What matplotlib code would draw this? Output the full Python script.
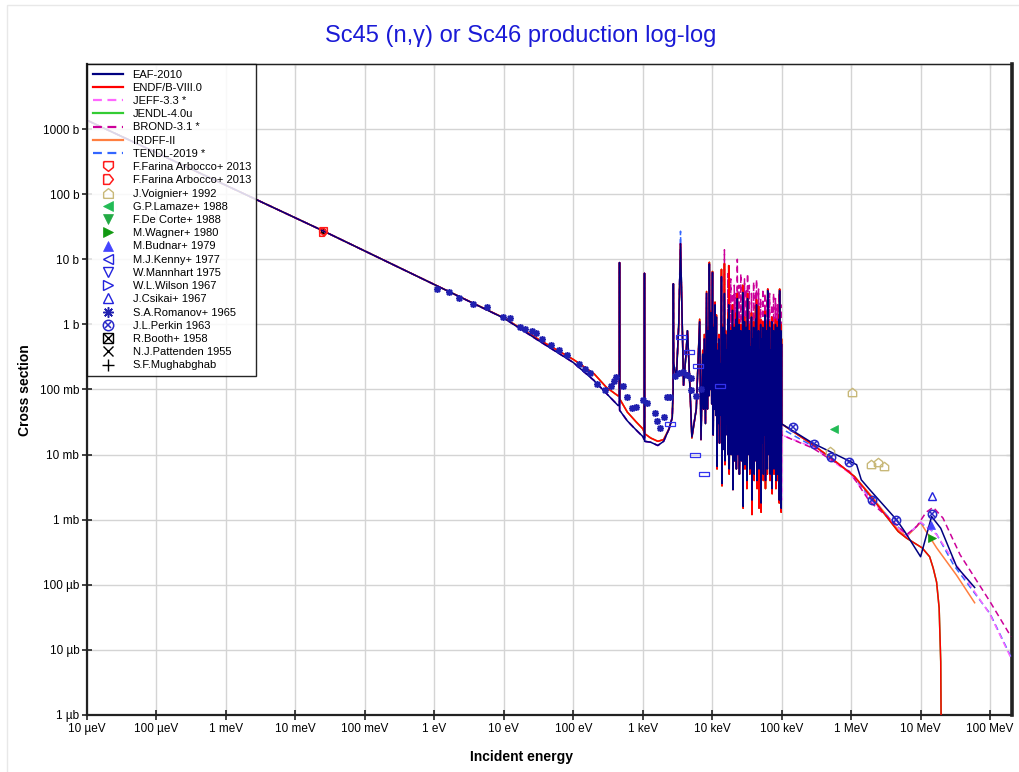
import matplotlib
matplotlib.use('Agg')
import matplotlib.pyplot as plt
from matplotlib.lines import Line2D
from matplotlib.patches import Rectangle
from matplotlib.ticker import NullLocator

plt.rcParams['font.family'] = ['Liberation Sans', 'DejaVu Sans']

# ---------------- evaluated data ----------------
# smooth (1/v) region, energies in eV, cross sections in barn
smooth_E_eV = [1e-5, 0.0253, 1.0, 10.0, 31.6, 100.0, 200.0, 300.0, 440.0]
eaf_smooth_b = [1368, 27.2, 4.1, 1.25, 0.565, 0.26, 0.137, 0.087, 0.057]
endf_smooth_b = [1368, 27.2, 4.1, 1.26, 0.59, 0.29, 0.174, 0.108, 0.080]

# isolated resonances, keV / barn
iso_E_keV = [0.462, 0.4635, 0.465, 0.6, 0.8, 1.0, 1.055, 1.06, 1.065, 1.3, 1.65, 2.0, 2.4,
             2.66, 2.74, 2.76, 2.79, 3.05, 3.3, 3.5, 3.7, 3.87, 4.2, 4.4, 4.6, 5.1, 5.9]
eaf_iso_b = [0.057, 8.9, 0.048, 0.033, 0.024, 0.019, 0.017, 6.1, 0.016, 0.0155, 0.0138, 0.016, 0.025,
             0.037, 0.1, 4.2, 0.25, 0.15, 1.0, 17.4, 1.0, 0.116, 0.35, 0.8, 0.3, 0.0187, 0.05]
endf_iso_b = [0.082, 8.9, 0.072, 0.045, 0.032, 0.025, 0.022, 6.1, 0.021, 0.018, 0.016, 0.017, 0.025,
              0.037, 0.1, 4.2, 0.25, 0.15, 1.0, 17.4, 1.0, 0.116, 0.35, 0.8, 0.3, 0.018, 0.05]
tendl_iso_b = [0.057, 8.9, 0.048, 0.033, 0.024, 0.019, 0.017, 6.1, 0.016, 0.0155, 0.0138, 0.016, 0.025,
               0.037, 0.1, 4.2, 0.25, 0.15, 1.0, 27.0, 1.0, 0.116, 0.35, 0.8, 0.3, 0.0187, 0.05]

# dense resolved resonance region, keV / barn
res_peak_keV = [6.6, 7.3, 7.7, 8.3, 8.8, 9.1, 9.6, 10.1, 10.6, 11.0,
                11.5, 12.0, 12.5, 13.0, 13.6, 14.1, 14.6, 15.0, 15.6, 16.2,
                16.8, 17.3, 17.9, 18.5, 19.0, 19.6, 20.2, 20.8, 21.4, 22.0,
                22.6, 23.0, 23.7, 24.3, 25.0, 25.8, 26.6, 27.5, 28.3, 29.2,
                30.1, 31.0, 32.3, 33.2, 34.2, 35.3, 36.8, 38.0, 39.5, 41.0,
                42.2, 43.5, 45.0, 46.5, 48.0, 49.8, 51.5, 53.5, 55.5, 57.5,
                59.5, 61.5, 63.0, 65.0, 67.0, 69.5, 72.0, 74.0, 76.5, 79.0,
                81.5, 84.0, 86.5, 89.0, 91.5, 93.5, 95.5, 97.5, 99.5]
res_valley_keV = [6.9, 7.5, 8.0, 8.55, 8.95, 9.35, 9.85, 10.35, 10.8, 11.25,
                  11.75, 12.25, 12.75, 13.3, 13.85, 14.35, 14.8, 15.3, 15.9, 16.5,
                  17.05, 17.6, 18.2, 18.75, 19.3, 19.9, 20.5, 21.1, 21.7, 22.3,
                  22.8, 23.35, 24.0, 24.65, 25.4, 26.2, 27.05, 27.9, 28.75, 29.65,
                  30.55, 31.6, 32.75, 33.7, 34.75, 36.0, 37.4, 38.75, 40.25, 41.6,
                  42.85, 44.25, 45.75, 47.25, 48.9, 50.6, 52.5, 54.5, 56.5, 58.5,
                  60.5, 62.2, 64.0, 66.0, 68.2, 70.7, 73.0, 75.2, 77.7, 80.2,
                  82.7, 85.2, 87.7, 90.2, 92.5, 94.5, 96.5, 98.5, 99.9]
eaf_peak_b = [1.1, 0.35, 0.6, 3.0, 0.8, 8.5, 1.5, 6.3, 0.9, 2.0,
              1.3, 0.4, 0.6, 0.25, 5.4, 0.9, 0.5, 3.0, 0.7, 0.4,
              1.2, 2.0, 0.6, 0.8, 0.4, 1.65, 0.5, 0.9, 0.35, 1.2,
              0.6, 2.5, 0.45, 1.0, 0.5, 0.8, 0.35, 3.1, 0.6, 1.1,
              0.4, 0.9, 2.5, 0.5, 0.8, 0.45, 1.3, 0.6, 0.9, 0.4,
              1.2, 2.0, 0.5, 0.8, 0.4, 1.0, 0.6, 0.9, 0.4, 1.4,
              0.5, 0.8, 3.3, 0.6, 0.9, 0.4, 1.1, 0.5, 0.8, 0.45,
              1.0, 0.6, 0.9, 0.4, 1.2, 3.3, 0.6, 0.8, 0.5]
eaf_valley_b = [0.017, 0.05, 0.03, 0.05, 0.08, 0.1, 0.06, 0.02, 0.05, 0.04,
                0.0066, 0.03, 0.015, 0.04, 0.0036, 0.03, 0.012, 0.008, 0.03, 0.02,
                0.01, 0.006, 0.025, 0.01, 0.03, 0.0029, 0.02, 0.008, 0.03, 0.006,
                0.02, 0.01, 0.03, 0.005, 0.02, 0.008, 0.025, 0.0016, 0.02, 0.007,
                0.03, 0.004, 0.01, 0.025, 0.006, 0.02, 0.002, 0.015, 0.005, 0.02,
                0.008, 0.004, 0.02, 0.006, 0.025, 0.0018, 0.015, 0.005, 0.02, 0.004,
                0.015, 0.006, 0.01, 0.02, 0.005, 0.02, 0.003, 0.015, 0.006, 0.02,
                0.004, 0.015, 0.005, 0.02, 0.002, 0.01, 0.004, 0.0015, 0.03]
endf_peak_b = [1.2, 0.4, 0.7, 3.2, 0.9, 9.0, 1.6, 6.5, 1.0, 2.2,
               1.4, 0.5, 0.7, 0.3, 7.0, 1.0, 0.6, 8.6, 0.8, 0.5,
               1.5, 8.0, 0.7, 0.9, 0.5, 2.0, 0.6, 1.0, 0.4, 1.5,
               0.7, 3.0, 0.5, 1.2, 0.6, 1.0, 0.4, 4.0, 0.7, 1.3,
               0.5, 1.1, 3.0, 0.6, 1.0, 0.5, 1.5, 0.7, 1.1, 0.5,
               1.9, 2.4, 0.6, 1.9, 0.5, 1.2, 0.7, 1.1, 0.5, 1.6,
               0.6, 1.0, 3.5, 0.7, 1.1, 0.5, 1.3, 0.6, 1.0, 0.5,
               1.2, 0.7, 1.1, 0.95, 1.4, 3.5, 0.7, 1.0, 0.6]
endf_valley_b = [0.017, 0.05, 0.03, 0.05, 0.08, 0.1, 0.06, 0.02, 0.05, 0.04,
                 0.006, 0.03, 0.015, 0.04, 0.0033, 0.03, 0.012, 0.007, 0.03, 0.02,
                 0.01, 0.005, 0.025, 0.01, 0.03, 0.0029, 0.02, 0.008, 0.03, 0.006,
                 0.02, 0.01, 0.03, 0.005, 0.02, 0.008, 0.025, 0.0015, 0.02, 0.006,
                 0.03, 0.003, 0.01, 0.025, 0.005, 0.02, 0.0012, 0.015, 0.004, 0.02,
                 0.008, 0.003, 0.02, 0.0015, 0.025, 0.0013, 0.015, 0.004, 0.02, 0.003,
                 0.015, 0.005, 0.01, 0.02, 0.004, 0.02, 0.0025, 0.015, 0.005, 0.02,
                 0.003, 0.015, 0.004, 0.02, 0.0018, 0.01, 0.003, 0.0013, 0.03]
brond_peak_b = [1.1, 0.35, 0.6, 3.0, 0.8, 8.5, 1.5, 6.3, 0.9, 2.0,
                1.3, 0.4, 0.6, 0.25, 6.0, 0.9, 0.5, 14.0, 0.7, 0.4,
                6.0, 8.0, 0.6, 5.0, 0.4, 3.0, 0.5, 4.0, 0.35, 3.0,
                0.6, 10.0, 0.45, 4.0, 0.5, 6.0, 0.35, 3.1, 0.6, 5.0,
                0.4, 3.5, 6.0, 0.5, 4.0, 0.45, 3.0, 0.6, 4.5, 0.4,
                3.0, 4.9, 0.5, 3.5, 0.4, 2.5, 0.6, 3.5, 0.4, 3.0,
                0.5, 2.5, 3.5, 0.6, 3.0, 0.4, 2.0, 0.5, 3.0, 0.45,
                2.5, 0.6, 2.0, 0.4, 3.0, 3.5, 0.6, 2.0, 0.5]

# fast region, MeV / mb
eaf_hi_MeV = [0.1, 0.28, 0.95, 1.2, 1.4, 1.85, 4.5, 5.9, 10.0, 14.4, 19.5, 33.0, 60.0]
eaf_hi_mb = [29.6, 15.0, 7.9, 7.0, 4.1, 2.9, 1.0, 0.66, 0.27, 1.12, 0.74, 0.19, 0.091]
endf_hi_MeV = [0.1, 0.28, 0.55, 1.12, 1.85, 4.75, 6.3, 10.5, 13.5, 15.2, 17.0, 18.5, 19.5, 20.0, 20.2]
endf_hi_mb = [29.6, 14.2, 8.4, 4.6, 2.4, 0.66, 0.52, 0.37, 0.27, 0.18, 0.11, 0.044, 0.0066, 1e-4, 1e-6]
jeff_hi_MeV = [0.1, 0.1005, 0.28, 0.95, 1.85, 4.5, 6.3, 10.0, 17.0, 33.0, 100.0, 200.0]
jeff_hi_mb = [2.0, 20.0, 13.0, 5.2, 2.1, 0.8, 0.56, 0.92, 0.59, 0.2, 0.035, 0.0075]
brond_hi_MeV = [0.1, 0.28, 0.95, 1.85, 4.5, 6.3, 8.8, 12.0, 15.2, 21.0, 37.0, 100.0, 200.0]
brond_hi_mb = [20.0, 12.6, 5.5, 1.9, 0.84, 0.59, 0.79, 1.3, 1.55, 1.06, 0.29, 0.055, 0.016]
irdff_hi_MeV = [0.1, 0.28, 0.55, 1.12, 1.85, 4.75, 6.3, 10.0, 17.0, 33.0, 60.0]
irdff_hi_mb = [29.6, 14.2, 8.4, 4.6, 2.5, 0.7, 0.55, 0.9, 0.37, 0.14, 0.053]
tendl_hi_MeV = [0.1, 0.28, 0.95, 1.85, 4.5, 6.3, 10.0, 17.0, 30.0, 100.0, 200.0]
tendl_hi_mb = [25.0, 13.5, 5.4, 2.2, 0.82, 0.57, 0.9, 0.6, 0.2, 0.036, 0.0078]

# ---------------- experimental data ----------------
farina1_E_eV = [0.0253]; farina1_b = [27.0]
farina2_E_eV = [0.0253]; farina2_b = [26.6]
voignier_E_MeV = [0.489, 1.02, 1.96, 2.44, 2.95]; voignier_mb = [11.2, 90.0, 7.2, 7.7, 6.8]
lamaze_E_MeV = [0.558]; lamaze_mb = [24.8]
decorte_E_eV = [0.0253]; decorte_b = [26.5]
wagner_E_MeV = [14.7]; wagner_mb = [0.53]
budnar_E_MeV = [14.2]; budnar_mb = [0.82]
kenny_E_keV = [24.5]; kenny_b = [0.09]
mannhart_E_keV = [30.0]; mannhart_b = [0.07]
wilson_E_keV = [26.0]; wilson_b = [0.1]
csikai_E_MeV = [14.7]; csikai_mb = [2.34]
romanov_E_eV = [1.09, 1.6, 2.3, 3.6, 5.7, 9.6, 12.2, 17, 20, 25.5, 29.5, 35.6, 48, 63, 80,
                120, 150, 177, 221, 291, 352, 384, 415, 523, 597, 705, 813, 1000, 1135, 1480,
                1600, 1800, 2000, 2250, 2500, 2870, 3300, 3800, 4400, 5000, 5000, 5900, 6800]
romanov_b = [3.5, 3.1, 2.55, 2.06, 1.83, 1.28, 1.24, 0.92, 0.85, 0.78, 0.73, 0.6, 0.49, 0.40, 0.34,
             0.25, 0.21, 0.18, 0.12, 0.099, 0.114, 0.137, 0.158, 0.114, 0.078, 0.052, 0.054, 0.068, 0.062, 0.043,
             0.033, 0.026, 0.038, 0.076, 0.078, 0.164, 0.18, 0.186, 0.167, 0.15, 0.099, 0.08, 0.1]
perkin_E_MeV = [0.144, 0.297, 0.517, 0.931, 2.0, 4.5, 14.4]
perkin_mb = [26.3, 14.3, 9.1, 7.7, 2.03, 1.0, 1.24]
booth_E_eV = [0.0253]; booth_b = [27.0]
pattenden_E_eV = [0.0253]; pattenden_b = [27.0]
mughabghab_E_eV = [0.0253]; mughabghab_b = [27.2]
bins_E_keV = [3.5, 4.6, 6.3, 12.9, 2.43, 5.6, 7.6]
bins_b = [0.63, 0.38, 0.23, 0.115, 0.029, 0.010, 0.0051]

x_ticks_eV = [1e-5, 1e-4, 1e-3, 1e-2, 1e-1, 1, 10, 100, 1e3, 1e4, 1e5, 1e6, 1e7, 1e8]
x_tick_labels = ['10 µeV', '100 µeV', '1 meV', '10 meV', '100 meV', '1 eV', '10 eV', '100 eV',
                 '1 keV', '10 keV', '100 keV', '1 MeV', '10 MeV', '100 MeV']
y_ticks_b = [1e-6, 1e-5, 1e-4, 1e-3, 1e-2, 1e-1, 1, 10, 100, 1000]
y_tick_labels = ['1 µb', '10 µb', '100 µb', '1 mb', '10 mb', '100 mb', '1 b', '10 b', '100 b', '1000 b']


def curve(smooth_b, iso_b, peak_b, valley_b, hi_MeV, hi_mb):
    E = list(smooth_E_eV)
    s = list(smooth_b)
    E += [e * 1e3 for e in iso_E_keV]
    s += list(iso_b)
    for ep, p, ev, v in zip(res_peak_keV, peak_b, res_valley_keV, valley_b):
        E += [ep * 1e3, ev * 1e3]
        s += [p, v]
    E += [e * 1e6 for e in hi_MeV]
    s += [m * 1e-3 for m in hi_mb]
    return E, s


W, H = 1020, 772
fig = plt.figure(figsize=(W / 100, H / 100), dpi=100)
fig.patches.append(Rectangle((7 / W, -0.01), 1.02, (772 - 5) / H + 0.01, transform=fig.transFigure,
                             fill=False, edgecolor='#e8e8e8', lw=1))
ax = fig.add_axes([87 / W, (772 - 715) / H, (1012 - 87) / W, (715 - 64) / H])
ax.set_xscale('log')
ax.set_yscale('log')

libs = [
    ('EAF-2010', '#000080', '-', curve(eaf_smooth_b, eaf_iso_b, eaf_peak_b, eaf_valley_b, eaf_hi_MeV, eaf_hi_mb), 10),
    ('ENDF/B-VIII.0', '#ff0000', '-', curve(endf_smooth_b, endf_iso_b, endf_peak_b, endf_valley_b, endf_hi_MeV, endf_hi_mb), 9),
    ('JEFF-3.3 *', '#ff66ff', '--', curve(eaf_smooth_b, eaf_iso_b, eaf_peak_b, eaf_valley_b, jeff_hi_MeV, jeff_hi_mb), 6),
    ('JENDL-4.0u', '#33cc33', '-', curve(endf_smooth_b, endf_iso_b, endf_peak_b, endf_valley_b, endf_hi_MeV, endf_hi_mb), 2),
    ('BROND-3.1 *', '#cc0099', '--', curve(eaf_smooth_b, eaf_iso_b, brond_peak_b, eaf_valley_b, brond_hi_MeV, brond_hi_mb), 7),
    ('IRDFF-II', '#ff7f40', '-', curve(endf_smooth_b, endf_iso_b, endf_peak_b, endf_valley_b, irdff_hi_MeV, irdff_hi_mb), 4),
    ('TENDL-2019 *', '#3366ff', '--', curve(eaf_smooth_b, tendl_iso_b, eaf_peak_b, eaf_valley_b, tendl_hi_MeV, tendl_hi_mb), 5),
]

handles = []
for name, col, ls, (E, s), z in libs:
    kw = dict(color=col, lw=1.1, zorder=z)
    if ls == '--':
        kw['dashes'] = (4, 2.5)
    ax.plot(E, s, **kw)
    handles.append(Line2D([], [], lw=1.6, label=name, **{k: v for k, v in kw.items() if k not in ('lw', 'zorder')}))

shield_down = [(-1, 1), (1, 1), (1, -0.2), (0, -1), (-1, -0.2), (-1, 1)]
shield_right = [(-1, 1), (0.2, 1), (1, 0), (0.2, -1), (-1, -1), (-1, 1)]
house_up = [(-1, -1), (1, -1), (1, 0.2), (0, 1), (-1, 0.2), (-1, -1)]
wide_box = [(-2, -0.75), (2, -0.75), (2, 0.75), (-2, 0.75), (-2, -0.75)]

blue_o = '#2222dd'
exp_specs = [
    # label, x, y, marker, color, filled, size, mew, zorder
    ('F.Farina Arbocco+ 2013', farina1_E_eV, farina1_b, shield_down, '#ff1a1a', False, 5.5, 1.1, 13),
    ('F.Farina Arbocco+ 2013', farina2_E_eV, farina2_b, shield_right, '#ff1a1a', False, 5.5, 1.1, 13),
    ('J.Voignier+ 1992', [e * 1e6 for e in voignier_E_MeV], [v * 1e-3 for v in voignier_mb], house_up, '#c8b878', False, 6, 1.0, 12),
    ('G.P.Lamaze+ 1988', [e * 1e6 for e in lamaze_E_MeV], [v * 1e-3 for v in lamaze_mb], '<', '#22bb55', True, 6, 0.5, 12),
    ('F.De Corte+ 1988', decorte_E_eV, decorte_b, 'v', '#22aa44', True, 3, 0.5, 3),
    ('M.Wagner+ 1980', [e * 1e6 for e in wagner_E_MeV], [v * 1e-3 for v in wagner_mb], '>', '#119911', True, 6, 0.5, 12),
    ('M.Budnar+ 1979', [e * 1e6 for e in budnar_E_MeV], [v * 1e-3 for v in budnar_mb], '^', '#4444ff', True, 6, 0.5, 12),
    ('M.J.Kenny+ 1977', [e * 1e3 for e in kenny_E_keV], kenny_b, '<', blue_o, False, 5, 1.0, 3),
    ('W.Mannhart 1975', [e * 1e3 for e in mannhart_E_keV], mannhart_b, 'v', blue_o, False, 5, 1.0, 3),
    ('W.L.Wilson 1967', [e * 1e3 for e in wilson_E_keV], wilson_b, '>', blue_o, False, 5, 1.0, 3),
    ('J.Csikai+ 1967', [e * 1e6 for e in csikai_E_MeV], [v * 1e-3 for v in csikai_mb], '^', blue_o, False, 6, 1.0, 12),
]

for lab, xs, ys, mk, col, filled, ms, mew, z in exp_specs:
    fc = col if filled else 'none'
    ax.plot(xs, ys, ls='none', marker=mk, ms=ms, mec=col, mfc=fc, mew=mew, zorder=z)
    handles.append(Line2D([], [], ls='none', marker=mk, ms=7, mec=col, mfc=fc, mew=mew, label=lab))

# Romanov asterisks
rom_col = '#2020b0'
ax.plot(romanov_E_eV, romanov_b, ls='none', marker=(8, 2, 0), ms=5, mec=rom_col, mew=1.1, zorder=12)
handles.append(Line2D([], [], ls='none', marker=(8, 2, 0), ms=7.5, mec=rom_col, mew=1.1, label='S.A.Romanov+ 1965'))

# Perkin circled x
per_col = '#2828c8'
pE = [e * 1e6 for e in perkin_E_MeV]
pS = [v * 1e-3 for v in perkin_mb]
ax.plot(pE, pS, ls='none', marker='o', ms=6, mec=per_col, mfc='none', mew=1.1, zorder=12)
ax.plot(pE, pS, ls='none', marker='x', ms=4, mec=per_col, mew=1.1, zorder=12)
handles.append((Line2D([], [], ls='none', marker='o', ms=7.5, mec=per_col, mfc='none', mew=1.1),
                Line2D([], [], ls='none', marker='x', ms=5, mec=per_col, mew=1.1)))

# Booth boxed x, Pattenden x, Mughabghab + (thermal, under the Farina points)
ax.plot(booth_E_eV, booth_b, ls='none', marker='s', ms=3, mec='k', mfc='none', mew=0.7, zorder=3)
ax.plot(pattenden_E_eV, pattenden_b, ls='none', marker='x', ms=3, mec='k', mew=0.7, zorder=3)
ax.plot(mughabghab_E_eV, mughabghab_b, ls='none', marker='+', ms=3, mec='k', mew=0.7, zorder=3)
handles.append((Line2D([], [], ls='none', marker='s', ms=7.5, mec='k', mfc='none', mew=1.0),
                Line2D([], [], ls='none', marker='x', ms=7.5, mec='k', mew=1.0)))
handles.append(Line2D([], [], ls='none', marker='x', ms=6.5, mec='k', mew=1.0))
handles.append(Line2D([], [], ls='none', marker='+', ms=9, mec='k', mew=1.0))

# energy-bin data drawn as boxes
ax.plot([e * 1e3 for e in bins_E_keV], bins_b, ls='none', marker=wide_box, ms=6.5, mec='#3333ee',
        mfc='none', mew=0.9, zorder=12)

labels = [h.get_label() for h in handles[:7 + len(exp_specs) + 1]]
labels += ['J.L.Perkin 1963', 'R.Booth+ 1958', 'N.J.Pattenden 1955', 'S.F.Mughabghab']

ax.set_xlim(1e-5, 2.07e8)
ax.set_ylim(1e-6, 1e4)
ax.set_xticks(x_ticks_eV)
ax.set_xticklabels(x_tick_labels)
ax.set_yticks(y_ticks_b)
ax.set_yticklabels(y_tick_labels)
ax.xaxis.set_minor_locator(NullLocator())
ax.yaxis.set_minor_locator(NullLocator())
ax.tick_params(axis='both', which='major', direction='inout', length=7, width=1.2,
               labelsize=8.5, color='#222222')
ax.tick_params(axis='x', pad=2)
ax.tick_params(axis='y', pad=2)
ax.grid(True, which='major', color='#d4d4d4', lw=1.0, zorder=0)
ax.set_axisbelow(True)
for side, lw in (('left', 1.6), ('bottom', 1.6), ('top', 1.0), ('right', 2.6)):
    ax.spines[side].set_linewidth(lw)
    ax.spines[side].set_color('#222222')

sx = ax.secondary_xaxis('top')
sx.set_xticks(x_ticks_eV)
sx.set_xticklabels([])
sx.xaxis.set_minor_locator(NullLocator())
sx.tick_params(direction='in', length=3, color='#555555')
sy = ax.secondary_yaxis('right')
sy.set_yticks(y_ticks_b)
sy.set_yticklabels([])
sy.yaxis.set_minor_locator(NullLocator())
sy.tick_params(direction='in', length=4, color='#333333')

leg = ax.legend(handles, labels, loc='upper left', bbox_to_anchor=(0, 1), borderaxespad=0,
                fontsize=8, frameon=True, fancybox=False, edgecolor='black', framealpha=0.85,
                borderpad=0.5, handlelength=2.7, handletextpad=0.9, labelspacing=0.29)
leg.get_frame().set_linewidth(1.0)
leg.set_zorder(20)

fig.text(0.51, 1 - 36 / H, 'Sc45 (n,γ) or Sc46 production log-log', color='#1a1ad6', fontsize=17,
         ha='center', va='center')
fig.text(25 / W, 1 - 390 / H, 'Cross section', rotation=90, fontsize=10, fontweight='bold',
         ha='center', va='center')
fig.text(522 / W, 1 - 757 / H, 'Incident energy', fontsize=10, fontweight='bold', ha='center', va='center')

fig.savefig('out.png', dpi=100)
